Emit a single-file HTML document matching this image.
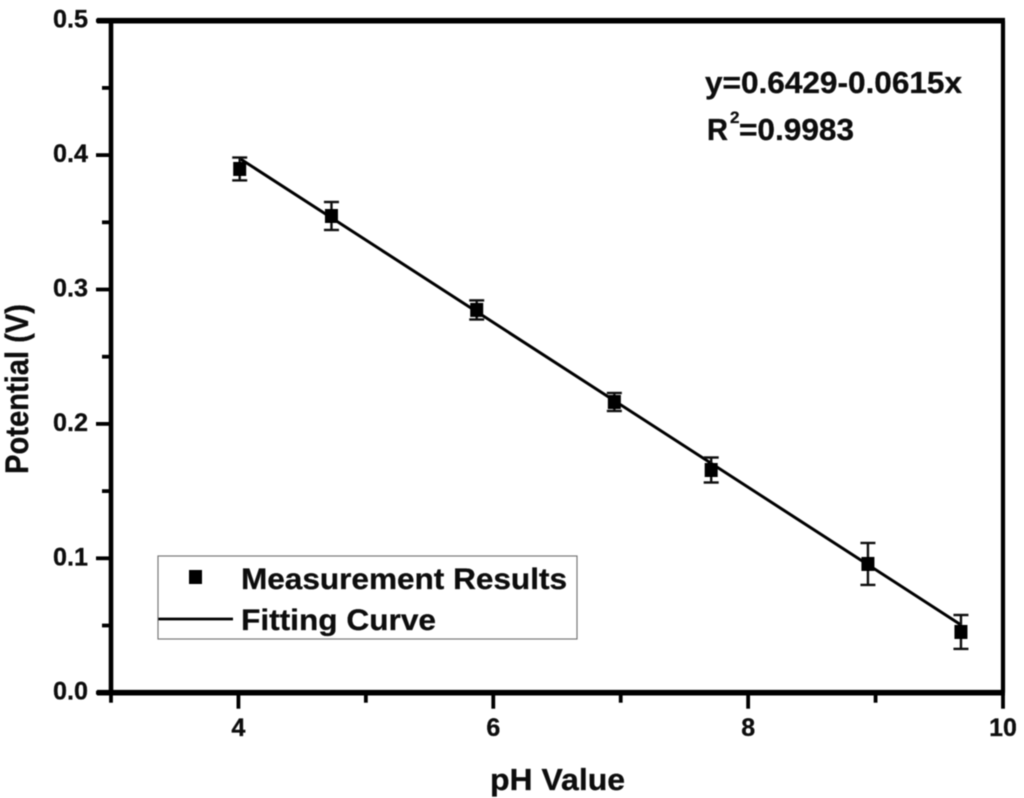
<!DOCTYPE html>
<html>
<head>
<meta charset="utf-8">
<title>Potential vs pH</title>
<style>
html,body{margin:0;padding:0;background:#fff;width:1024px;height:798px;overflow:hidden}
svg{display:block}
text{font-family:"Liberation Sans",sans-serif;font-weight:bold;fill:#0a0a0a;stroke:#0a0a0a;stroke-width:0.3}
</style>
</head>
<body>
<svg id="chart" xmlns="http://www.w3.org/2000/svg" width="1024" height="798" viewBox="0 0 1024 798">
<defs><filter id="soft" x="-5%" y="-5%" width="110%" height="110%"><feGaussianBlur stdDeviation="0.6"/></filter></defs>
<g id="root" filter="url(#soft)">
<g id="series"></g>
<g id="axes"></g>
<g>
<rect x="158" y="556" width="419" height="83" fill="none" stroke="#777" stroke-width="1.2"/>
<rect x="189" y="570" width="13" height="14" fill="#000"/>
<text x="241" y="589" font-size="30" textLength="326" lengthAdjust="spacingAndGlyphs">Measurement Results</text>
<line x1="158" y1="619" x2="233" y2="619" stroke="#000" stroke-width="2.8"/>
<text x="241" y="630" font-size="30" textLength="195" lengthAdjust="spacingAndGlyphs">Fitting Curve</text>
</g>
<text x="705" y="93" font-size="31" textLength="257" lengthAdjust="spacingAndGlyphs">y=0.6429-0.0615x</text>
<text x="707" y="140" font-size="31" textLength="21" lengthAdjust="spacingAndGlyphs">R</text>
<text x="730" y="123" font-size="17">2</text>
<text x="739" y="140" font-size="31" textLength="115" lengthAdjust="spacingAndGlyphs">=0.9983</text>
<text x="490" y="790" font-size="31" textLength="135" lengthAdjust="spacingAndGlyphs">pH Value</text>
<text transform="translate(28,474) rotate(-90)" x="0" y="0" font-size="32" textLength="170" lengthAdjust="spacingAndGlyphs">Potential (V)</text>
</g>
</svg>
<script>
const phValues = [4.01, 4.73, 5.87, 6.95, 7.71, 8.94, 9.67];
const potentialValues = [0.3897, 0.3547, 0.2848, 0.2163, 0.1657, 0.0958, 0.0452];
const errorValues = [0.0085, 0.0104, 0.0071, 0.0067, 0.0093, 0.0156, 0.0126];
const fitPh = [4.01, 9.67];
const fitPotential = [0.3975, 0.0505];
const xMajorTicks = [4, 6, 8, 10];
const xMinorTicks = [3, 5, 7, 9];
const yMajorTicks = [0, 0.1, 0.2, 0.3, 0.4, 0.5];
const yMinorTicks = [0.05, 0.15, 0.25, 0.35, 0.45];
const xTickLabels = ['4', '6', '8', '10'];
const yTickLabels = ['0.0', '0.1', '0.2', '0.3', '0.4', '0.5'];

const xMin = 3, xMax = 10, yMin = 0, yMax = 0.5;
const plotLeft = 111, plotRight = 1003, plotBottom = 692.7, plotTop = 20.7;
function xScale(v) { return plotLeft + (v - xMin) / (xMax - xMin) * (plotRight - plotLeft); }
function yScale(v) { return plotBottom - (v - yMin) / (yMax - yMin) * (plotBottom - plotTop); }

const NS = 'http://www.w3.org/2000/svg';
function make(tag, parent, props) {
  const el = document.createElementNS(NS, tag);
  for (const k in props) el.setAttribute(k, props[k]);
  parent.appendChild(el);
  return el;
}
const axes = document.getElementById('axes');
const series = document.getElementById('series');

// frame
const leftAxis = make('line', axes, {x1: plotLeft, y1: plotTop, x2: plotLeft, y2: plotBottom, stroke: '#000', 'stroke-width': 4.6});


const bottomAxis = make('line', axes, {x1: plotLeft - 14, y1: plotBottom, x2: plotRight + 2, y2: plotBottom, stroke: '#000', 'stroke-width': 5.6});


const topAxis = make('line', axes, {x1: plotLeft - 14, y1: plotTop, x2: plotRight + 2, y2: plotTop, stroke: '#000', 'stroke-width': 5.6});


const rightAxis = make('line', axes, {x1: plotRight, y1: plotTop, x2: plotRight, y2: plotBottom, stroke: '#000', 'stroke-width': 4.2});



// x ticks
xMajorTicks.forEach(function (v, i) {
  const t = make('line', axes, {x1: xScale(v), y1: plotBottom, x2: xScale(v), y2: plotBottom + 16, stroke: '#000', 'stroke-width': 3.8});
  
  
  const l = make('text', axes, {x: xScale(v), y: 736, 'font-size': 25, 'text-anchor': 'middle'});
  
  
  l.textContent = xTickLabels[i];
});
xMinorTicks.forEach(function (v) {
  const t = make('line', axes, {x1: xScale(v), y1: plotBottom, x2: xScale(v), y2: plotBottom + 10, stroke: '#000', 'stroke-width': 3.8});
  
  
});

// y ticks
yMajorTicks.forEach(function (v, i) {
  const t = make('line', axes, {x1: plotLeft - 15, y1: yScale(v), x2: plotLeft, y2: yScale(v), stroke: '#000', 'stroke-width': 3.8});
  
  
  const l = make('text', axes, {x: 53, y: yScale(v) + 7, 'font-size': 25, textLength: 35, lengthAdjust: 'spacingAndGlyphs'});
  
  
  l.textContent = yTickLabels[i];
});
yMinorTicks.forEach(function (v) {
  const t = make('line', axes, {x1: plotLeft - 9, y1: yScale(v), x2: plotLeft, y2: yScale(v), stroke: '#000', 'stroke-width': 3.8});
  
  
});

// fit line
const fitLine = make('line', series, {x1: xScale(fitPh[0]), y1: yScale(fitPotential[0]), x2: xScale(fitPh[1]), y2: yScale(fitPotential[1]), stroke: '#000', 'stroke-width': 3});



// points with error bars
phValues.forEach(function (ph, i) {
  const cx = xScale(ph);
  const hi = yScale(potentialValues[i] + errorValues[i]);
  const lo = yScale(potentialValues[i] - errorValues[i]);
  const stem = make('line', series, {x1: cx, y1: hi, x2: cx, y2: lo, stroke: '#111', 'stroke-width': 2.4});
  
  
  const capTop = make('line', series, {x1: cx - 7.5, y1: hi, x2: cx + 7.5, y2: hi, stroke: '#111', 'stroke-width': 2.4});
  
  
  const capBottom = make('line', series, {x1: cx - 7.5, y1: lo, x2: cx + 7.5, y2: lo, stroke: '#111', 'stroke-width': 2.4});
  
  
  const pt = make('rect', series, {x: cx - 6.5, y: yScale(potentialValues[i]) - 7, width: 13, height: 14, fill: '#000'});
  
  
});
</script>
</body>
</html>
